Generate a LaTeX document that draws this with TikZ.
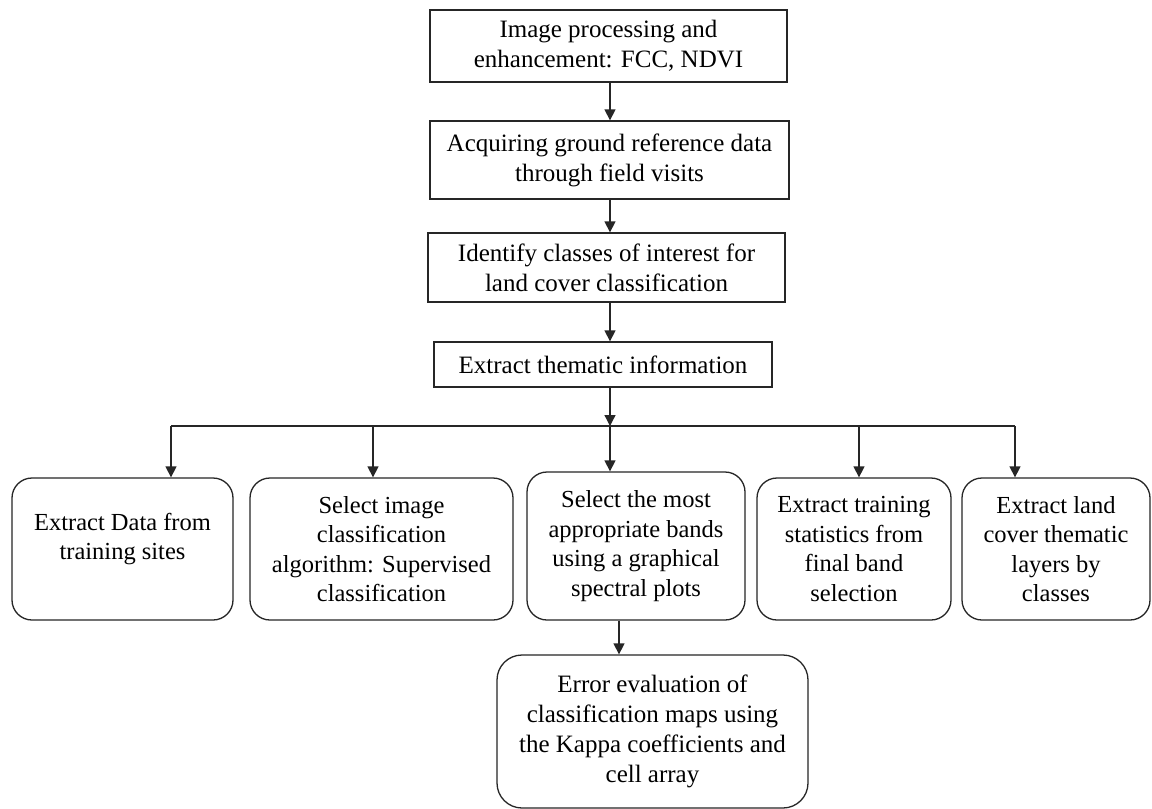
\documentclass[tikz,border=0pt]{standalone}
\usepackage{fontspec}
\setmainfont{Liberation Serif}
\usetikzlibrary{arrows.meta}
\begin{document}
\begin{tikzpicture}[x=1pt,y=-1pt,
  txt/.style={align=center,font=\fontsize{25}{30}\selectfont,inner sep=0pt},
  btxt/.style={align=center,font=\fontsize{24.5}{29.5}\selectfont,inner sep=0pt},
  sqbox/.style={txt,draw=black!85,line width=1.3pt,rectangle},
  rbox/.style={btxt,draw=black!85,line width=1.3pt,rectangle,rounded corners=20pt},
  arr/.style={draw=black!85,line width=1.3pt,-{Triangle[width=11pt,length=11pt]}},
  ln/.style={draw=black!85,line width=1.3pt}]
\useasboundingbox[fill=white] (0,0) rectangle (1152,809);

\node[sqbox,minimum width=357pt,minimum height=72pt] (b1) at (608.5,46) {Image processing and\\enhancement: FCC, NDVI};
\node[sqbox,minimum width=359pt,minimum height=78pt] (b2) at (609.5,160) {Acquiring ground reference data\\through field visits};
\node[sqbox,minimum width=357pt,minimum height=69pt] (b3) at (606.5,267.5) {Identify classes of interest for\\land cover classification};
\node[sqbox,minimum width=338pt,minimum height=45pt] (b4) at (603,364.5) {Extract thematic information};

\node[rbox,minimum width=221pt,minimum height=142pt] (ba) at (122.5,549) {};
\node[btxt] (ta) at ([yshift=10pt]ba.center) {Extract Data from\\training sites};
\node[rbox,minimum width=263pt,minimum height=142pt] (bb) at (381.5,549) {Select image\\classification\\algorithm: Supervised\\classification};
\node[rbox,minimum width=218pt,minimum height=148pt] (bc) at (636,546) {Select the most\\appropriate bands\\using a graphical\\spectral plots};
\node[rbox,minimum width=194pt,minimum height=142pt] (bd) at (854,549) {Extract training\\statistics from\\final band\\selection};
\node[rbox,minimum width=188pt,minimum height=142pt] (be) at (1056,549) {Extract land\\cover thematic\\layers by\\classes};
\node[rbox,font=\fontsize{25}{30}\selectfont,rounded corners=25pt,minimum width=311pt,minimum height=153pt] (bf) at (652.5,731.5) {Error evaluation of\\classification maps using\\the Kappa coefficients and\\cell array};

\coordinate (v) at (610,0);
\draw[arr] (b1.south -| v) -- (v |- b2.north);
\draw[arr] (b2.south -| v) -- (v |- b3.north);
\draw[arr] (b3.south -| v) -- (v |- b4.north);

\coordinate (j) at (610,426);
\coordinate (hl) at (171,426);
\coordinate (hb) at (373,426);
\coordinate (hd) at (859,426);
\coordinate (hr) at (1015,426);
\draw[arr] (b4.south -| j) -- (j);
\draw[ln] (hl) -- (hr);
\draw[arr] (hl) -- (hl |- ba.north);
\draw[arr] (hb) -- (hb |- bb.north);
\draw[arr] (j) -- (j |- bc.north);
\draw[arr] (hd) -- (hd |- bd.north);
\draw[arr] (hr) -- (hr |- be.north);

\coordinate (cf) at (619,640);
\draw[arr] (bc.south -| cf) -- (cf |- bf.north);
\end{tikzpicture}
\end{document}
